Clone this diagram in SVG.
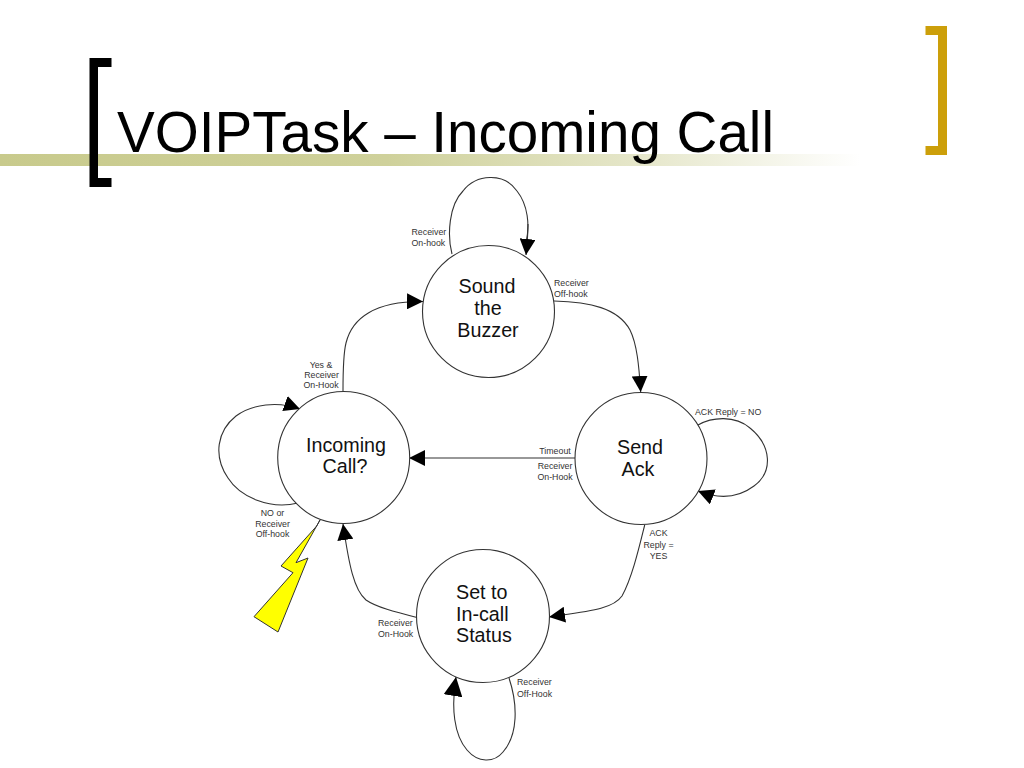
<svg xmlns="http://www.w3.org/2000/svg" width="1024" height="768" viewBox="0 0 1024 768">
<style>
.node{fill:#fff;stroke:#333;stroke-width:1.1}
.nt{font-family:"Liberation Sans",Arial,sans-serif;font-size:19.700px;fill:#111;text-anchor:middle}
.lb{font-family:"Liberation Sans",Arial,sans-serif;font-size:8.800px;fill:#333}
.m{text-anchor:middle}
.c{fill:none;stroke:#333;stroke-width:1.1;marker-end:url(#a)}
.p{fill:none;stroke:#333;stroke-width:1.1}
</style>
<defs>
<linearGradient id="band" x1="0" x2="1" y1="0" y2="0">
<stop offset="0" stop-color="#c8ca8c"/><stop offset="0.45" stop-color="#cfd19b"/><stop offset="0.75" stop-color="#e6e7cb"/><stop offset="1" stop-color="#fff"/>
</linearGradient>
<marker id="a" markerUnits="userSpaceOnUse" markerWidth="16" markerHeight="16" refX="14" refY="7" orient="auto" viewBox="0 0 14 14">
<path d="M0 0L14 7L0 14z" fill="#000"/>
</marker>
<marker id="b" markerUnits="userSpaceOnUse" markerWidth="19" markerHeight="19" refX="14" refY="7" orient="auto" viewBox="0 0 14 14">
<path d="M0 0L14 7L0 14z" fill="#000"/>
</marker>
</defs>
<g id="header">
<rect x="0" y="154" width="860" height="12" fill="url(#band)"/>
<path d="M89.500 58H111.500V67H98V178H111.500V187H89.500z" fill="#000"/>
<path d="M925.500 26H947V155H925.500V146H938V35H925.500z" fill="#cc9f0a"/>
<text x="117" y="152" font-family="'Liberation Sans',Arial,sans-serif" font-size="58" fill="#000" textLength="657" lengthAdjust="spacingAndGlyphs">VOIPTask – Incoming Call</text>
</g>
<g id="connectors">
<path class="p" d="M452 254C447 235 449 205 463 191C476 174 504 172 517 191C528 205 530 225 526 243"/>
<path class="c" d="M528 224C528 234 527 245 526 255"/>
<path class="c" d="M343 391C343 372 343 355 346 343C352 318 375 301 423 301.500"/>
<path class="c" d="M554 301C590 302 618 308 630 330C637 344 639 366 640.700 392"/>
<path class="c" d="M576 458H409"/>
<path class="c" d="M644.700 525C639 548 632 578 622 596C613 609 590 611 549 617"/>
<path class="c" d="M417 617.500C395 612 376 607 366 600C354 590 349 565 343 524"/>
<path class="c" d="M298 503C270 510 240 497 228 478C213 456 217 431 236 416C252 404 278 401 300 409"/>
<path class="c" d="M698 425C712 417 735 415 750 428C772 446 773 472 754 486C738 498 718 499 698 491"/>
<path class="c" style="marker-end:url(#b)" d="M509 678C518 705 518 735 503 752C494 763 478 763 467 750C454 735 451 708 456 677"/>
</g>
<g id="bolt">
<path d="M320 520L316.700 526L281 566L293 572.700L254 616.700L278 632L308 558L296 562.700z" fill="#ffff00" stroke="#333" stroke-width="1"/>
</g>
<g id="node-sound">
<circle class="node" cx="488.500" cy="311.500" r="66"/>
<text class="nt" x="487" y="293">Sound</text><text class="nt" x="488" y="315">the</text><text class="nt" x="488" y="337">Buzzer</text>
</g>
<g id="node-send">
<circle class="node" cx="641" cy="458.500" r="66"/>
<text class="nt" x="640" y="454">Send</text><text class="nt" x="638" y="476">Ack</text>
</g>
<g id="node-set">
<circle class="node" cx="483" cy="616" r="66.500"/>
<text class="nt" x="456" y="599" style="text-anchor:start">Set to</text><text class="nt" x="456" y="621" style="text-anchor:start">In-call</text><text class="nt" x="456" y="642" style="text-anchor:start">Status</text>
</g>
<g id="node-incoming">
<circle class="node" cx="343.700" cy="457.500" r="66"/>
<text class="nt" x="346" y="452">Incoming</text><text class="nt" x="345" y="473">Call?</text>
</g>
<g id="labels">
<text class="lb" x="411.500" y="235">Receiver</text><text class="lb" x="411.500" y="246">On-hook</text>
<text class="lb" x="554" y="286">Receiver</text><text class="lb" x="554" y="297">Off-hook</text>
<text class="lb m" x="321" y="368">Yes &amp;</text><text class="lb m" x="321.500" y="377.500">Receiver</text><text class="lb m" x="321" y="388">On-Hook</text>
<text class="lb m" x="272.500" y="516">NO or</text><text class="lb m" x="272.500" y="526.500">Receiver</text><text class="lb m" x="272.500" y="537">Off-hook</text>
<text class="lb m" x="555" y="454">Timeout</text><text class="lb m" x="555" y="469">Receiver</text><text class="lb m" x="555" y="480">On-Hook</text>
<text class="lb" x="695" y="415">ACK Reply = NO</text>
<text class="lb m" x="658.500" y="536">ACK</text><text class="lb m" x="658.500" y="547.500">Reply =</text><text class="lb m" x="658.500" y="558.500">YES</text>
<text class="lb" x="378" y="625.500">Receiver</text><text class="lb" x="378" y="636.500">On-Hook</text>
<text class="lb" x="517" y="685">Receiver</text><text class="lb" x="517" y="696.500">Off-Hook</text>
</g>
</svg>
